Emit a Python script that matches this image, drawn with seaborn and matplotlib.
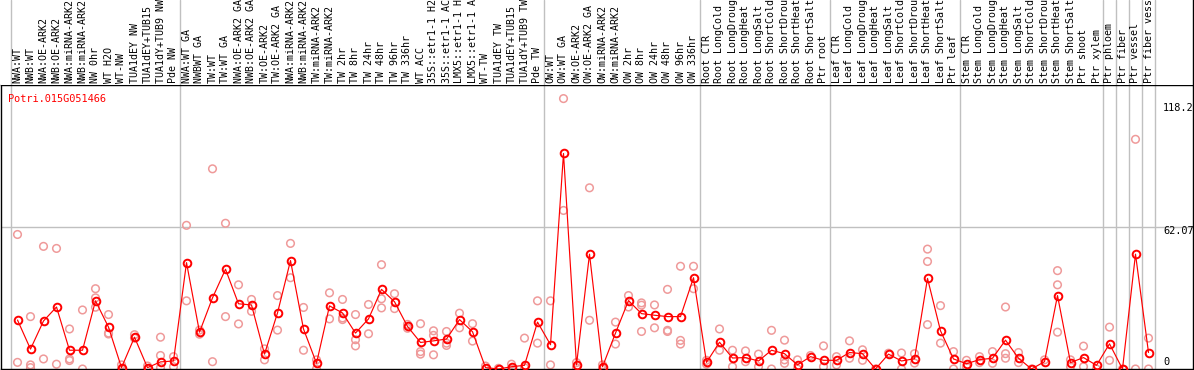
import pandas as pd
import seaborn as sns
import matplotlib.pyplot as plt
import matplotlib.transforms as mtransforms

gene = "Potri.015G051466"

labels = [
    "NWA:WT", "NWB:WT", "NWA:OE-ARK2", "NWB:OE-ARK2", "NWA:miRNA-ARK2", "NWB:miRNA-ARK2",
    "NW 0hr", "WT H2O", "WT-NW", "TUA1dEY NW", "TUA1dEY+TUB15", "TUA1dY+TUB9 NW", "Pde NW",
    "NWA:WT GA", "NWBWT GA", "TW:WT", "TW:WT GA", "NWA:OE-ARK2 GA", "NWB:OE-ARK2 GA",
    "TW:OE-ARK2", "TW:OE-ARK2 GA", "NWA:miRNA-ARK2", "NWB:miRNA-ARK2", "TW:miRNA-ARK2",
    "TW:miRNA-ARK2", "TW 2hr", "TW 8hr", "TW 24hr", "TW 48hr", "TW 96hr", "TW 336hr",
    "WT ACC", "35S::etr1-1 H2O", "35S::etr1-1 ACC", "LMX5::etr1-1 H2O", "LMX5::etr1-1 ACC",
    "WT-TW", "TUA1dEY TW", "TUA1dEY+TUB15", "TUA1dY+TUB9 TW", "Pde TW",
    "OW:WT", "OW:WT GA", "OW:OE-ARK2", "OW:OE-ARK2 GA", "OW:miRNA-ARK2", "OW:miRNA-ARK2",
    "OW 2hr", "OW 8hr", "OW 24hr", "OW 48hr", "OW 96hr", "OW 336hr",
    "Root CTR", "Root LongCold", "Root LongDrought", "Root LongHeat", "Root LongSalt",
    "Root ShortCold", "Root ShortDrought", "Root ShortHeat", "Root ShortSalt", "Ptr root",
    "Leaf CTR", "Leaf LongCold", "Leaf LongDrought", "Leaf LongHeat", "Leaf LongSalt",
    "Leaf ShortCold", "Leaf ShortDrought", "Leaf ShortHeat", "Leaf ShortSalt", "Ptr leaf",
    "Stem CTR", "Stem LongCold", "Stem LongDrought", "Stem LongHeat", "Stem LongSalt",
    "Stem ShortCold", "Stem ShortDrought", "Stem ShortHeat", "Stem ShortSalt", "Ptr shoot",
    "Ptr xylem", "Ptr phloem", "Ptr fiber", "Ptr vessel", "Ptr fiber vessel",
]

means = [
    21.4, 8.7, 21.0, 27.1, 8.2, 8.2, 29.8, 18.3, 0.6, 13.9, 0.6, 3.1, 3.5,
    46.5, 16.1, 31.1, 43.6, 28.5, 28.0, 6.5, 24.5, 47.4, 17.5, 2.5, 27.6, 24.5, 15.7,
    21.9, 34.8, 29.4, 18.6, 11.6, 12.3, 13.1, 21.6, 16.3, 0.6, 0.0, 1.0, 1.6, 20.5,
    10.6, 94.2, 1.8, 50.2, 1.0, 15.7, 29.9, 24.2, 23.5, 22.9, 22.9, 39.9,
    2.9, 11.7, 4.8, 5.0, 3.5, 8.2, 6.7, 1.8, 5.4, 3.8,
    3.8, 7.2, 6.7, 0.0, 6.5, 3.5, 4.5, 39.6, 16.7, 4.4,
    2.3, 4.1, 4.7, 12.6, 4.7, 0.0, 3.2, 32.1, 2.8, 5.0, 1.6,
    11.0, 0.0, 50.2, 7.2,
]

reps = [
    [58.8, 2.9], [22.9, 1.8, 0.6], [53.6, 4.4], [52.7, 2.1], [17.5, 4.4, 3.7],
    [25.8, 0.0], [35.1, 31.1, 27.0], [23.8, 15.3, 15.7], [1.8, 0.0], [15.0, 13.5],
    [1.3, 0.0], [13.9, 5.9, 0.6], [5.4, 1.0],
    [62.8, 29.8], [17.0, 15.2], [87.5, 3.2], [63.7, 22.9], [36.8, 19.7], [30.4, 25.2],
    [8.8, 4.0], [32.1, 17.0], [54.9, 39.9], [26.9, 8.2], [4.0, 0.0], [33.3, 21.9],
    [30.4, 21.6, 22.3], [23.8, 12.8, 10.1], [28.2, 15.4], [45.6, 30.7, 26.7],
    [32.9, 26.4], [19.5, 17.8], [19.8, 7.6, 6.5], [16.7, 14.7, 6.2], [16.4, 10.3, 11.3],
    [24.4, 18.0], [19.8, 12.2], [1.3, 0.0], [0.3, 0.0], [2.1, 0.0], [13.5, 0.6],
    [29.8, 11.3],
    [29.8, 1.8], [118.2, 69.3], [2.8, 0.6], [79.2, 21.3], [1.8, 0.0], [20.5, 10.9],
    [32.1, 27.1], [28.9, 27.9, 16.4], [28.0, 18.0], [34.8, 16.9, 16.4],
    [44.9, 12.5, 10.9], [44.9, 35.1],
    [3.8, 2.1], [17.5, 8.2], [8.2, 1.0], [7.9, 3.2], [6.5, 1.0], [16.9, 0.0],
    [12.6, 4.0, 2.5], [4.0, 0.0], [5.9], [10.1, 1.0],
    [5.4, 1.8], [12.3, 4.7], [8.4, 3.8], [0.0], [6.9], [7.0, 0.0], [6.7, 2.6],
    [52.4, 47.0, 19.4], [27.7, 11.3], [7.6, 0.0],
    [3.8, 1.0], [5.4, 2.8], [7.6, 2.5], [27.1, 6.7, 4.7], [7.2, 2.8], [0.0], [4.0],
    [43.0, 36.8, 16.1], [4.0, 1.0], [10.0, 1.0], [0.0],
    [18.3, 3.8], [0.0], [100.4, 0.0], [13.5, 0.0],
]

# column index where each sample group starts (plus the end)
group_breaks = [0, 13, 41, 53, 63, 73, 84, 85, 86, 87, 88]
y_ticks = [118.2, 62.07, 0]
y_top = 124.14

mean_df = pd.DataFrame({"x": range(len(means)), "value": means})
rep_df = pd.DataFrame([(i, v) for i, vals in enumerate(reps) for v in vals],
                      columns=["x", "value"])

sns.set_theme(style="white")
plt.rcParams["font.family"] = ["DejaVu Sans Mono"]

W, H = 1194, 370
fig = plt.figure(figsize=(W / 100, H / 100), dpi=100)
ax = fig.add_axes([1 / W, 1 / H, 1192 / W, 284 / H])
lab_ax = fig.add_axes([1 / W, 285 / H, 1192 / W, 85 / H])

xlim = ((1 - 17.5) / 13, (1193 - 17.5) / 13)
for a in (ax, lab_ax):
    a.set_xlim(*xlim)
    a.set_xticks([])
    a.set_yticks([])
    for k in group_breaks:
        a.axvline(k - 0.5, color="#c0c0c0", lw=1, zorder=0)

ax.set_ylim(0, y_top)
ax.axhline(y_ticks[1], color="#c0c0c0", lw=1, zorder=0)

sns.scatterplot(data=rep_df, x="x", y="value", ax=ax, marker="o", s=30,
                facecolor="none", edgecolor="#ef9a9a", linewidth=1.1, zorder=2)
sns.lineplot(data=mean_df, x="x", y="value", ax=ax, color="red", lw=0.85,
             marker="o", markersize=5.5, markerfacecolor="none",
             markeredgecolor="red", markeredgewidth=1.4, zorder=3)
ax.set_xlabel("")
ax.set_ylabel("")

for s in ax.spines.values():
    s.set_visible(True)
    s.set_color("black")
    s.set_linewidth(1)
for name, s in lab_ax.spines.items():
    s.set_visible(name == "right")
    s.set_color("black")
    s.set_linewidth(1)

for i, lab in enumerate(labels):
    lab_ax.text(i, 0.02, lab, rotation=90, ha="center", va="bottom",
                fontsize=7.2, color="black", clip_on=True)

ax.text(0.006, 0.97, gene, transform=ax.transAxes, ha="left", va="top",
        fontsize=7.4, color="red")

blend = mtransforms.blended_transform_factory(ax.transAxes, ax.transData)
offsets = {118.2: (-21.5, -3.0, "top"), 62.07: (-21.5, 0.5, "top"), 0: (-21.5, 1.5, "bottom")}
for v in y_ticks:
    dx, dy, va = offsets[v]
    ax.annotate(f"{v:g}", xy=(1, v), xycoords=blend, xytext=(dx, dy),
                textcoords="offset points", ha="left", va=va, fontsize=7.4,
                color="black")

fig.savefig("out.png", dpi=100)
